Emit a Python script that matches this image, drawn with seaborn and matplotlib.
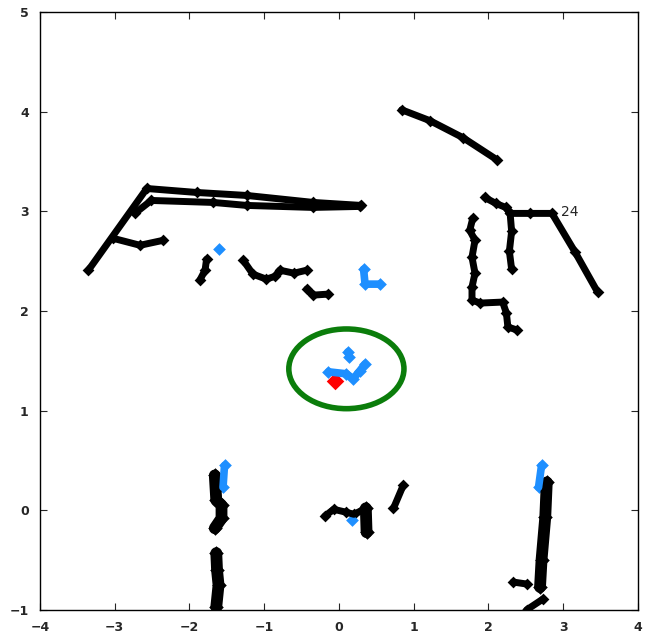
#!/usr/bin/env python3
"""Laser scan points around the robot, with the detected target circled."""

import matplotlib

matplotlib.use("Agg")
import matplotlib.pyplot as plt
import pandas as pd
import seaborn as sns
from matplotlib.patches import Ellipse

# black scan segments (x, y) in metres, normal width
arc_top = [(0.84, 4.02), (1.22, 3.91), (1.66, 3.74), (2.11, 3.52)]
right_wall = [(1.95, 3.14), (2.10, 3.08), (2.23, 3.04), (2.29, 2.98),
              (2.55, 2.98), (2.85, 2.98), (3.16, 2.59), (3.46, 2.19)]
right_post = [(2.29, 2.98), (2.31, 2.80), (2.28, 2.60), (2.31, 2.42)]
right_zig = [(1.79, 2.93), (1.75, 2.81), (1.82, 2.71), (1.78, 2.54),
             (1.82, 2.38), (1.78, 2.24), (1.78, 2.11), (1.89, 2.08),
             (2.19, 2.09), (2.24, 1.98), (2.26, 1.84), (2.38, 1.81)]
left_outer = [(-3.35, 2.41), (-2.57, 3.23), (-1.90, 3.19), (-1.23, 3.16),
              (-0.34, 3.09), (0.30, 3.06)]
left_inner = [(-2.73, 2.98), (-2.51, 3.11), (-1.68, 3.09), (-1.23, 3.06),
              (-0.35, 3.04), (0.28, 3.05)]
left_branch = [(-3.02, 2.73), (-2.66, 2.66), (-2.35, 2.71)]
mid_piece1 = [(-1.77, 2.52), (-1.79, 2.41), (-1.86, 2.31)]
mid_piece2 = [(-1.28, 2.51), (-1.15, 2.37), (-0.97, 2.32), (-0.85, 2.35),
              (-0.79, 2.41), (-0.60, 2.38), (-0.43, 2.41)]
mid_piece3 = [(-0.43, 2.22), (-0.34, 2.16), (-0.14, 2.17)]
mid_bottom = [(-0.19, -0.06), (-0.07, 0.01), (0.10, -0.02), (0.20, -0.04),
              (0.31, 0.00)]
slant = [(0.86, 0.25), (0.73, 0.02)]
bits_a = [(2.33, -0.72), (2.51, -0.74)]
bits_b = [(2.51, -1.00), (2.73, -0.89)]

# black scan segments, wide blobs
post_left_up = [(-1.66, 0.35), (-1.64, 0.10), (-1.57, 0.05), (-1.57, -0.08),
                (-1.66, -0.18)]
post_left_low = [(-1.64, -0.43), (-1.63, -0.60), (-1.61, -0.75), (-1.64, -0.97)]
block_mid = [(0.36, 0.02), (0.37, -0.22)]
post_right = [(2.78, 0.28), (2.76, -0.07), (2.71, -0.50), (2.69, -0.77)]

# blue points (tracked legs)
blue_a = [(-1.61, 2.62)]
blue_b = [(0.33, 2.42), (0.35, 2.27), (0.55, 2.27)]
blue_c = [(0.12, 1.59), (0.14, 1.54)]
blue_d = [(-0.14, 1.39), (0.10, 1.37), (0.19, 1.32), (0.28, 1.40), (0.35, 1.47)]
blue_e = [(-1.53, 0.45), (-1.55, 0.23)]
blue_f = [(0.17, -0.10)]
blue_g = [(2.71, 0.45), (2.67, 0.23)]

# red point (target)
red_pt = [(-0.05, 1.30)]

# circle around the target
circle_center = (0.10, 1.42)
circle_w, circle_h = 1.54, 0.80

label_text = "24"
label_pos = (2.97, 2.99)

x_ticks = [-4, -3, -2, -1, 0, 1, 2, 3, 4]
y_ticks = [-1, 0, 1, 2, 3, 4, 5]


def to_frame(segments):
    rows = []
    for i, seg in enumerate(segments):
        for x, y in seg:
            rows.append({"x": x, "y": y, "seg": i})
    return pd.DataFrame(rows)


def draw(ax, segments, color, lw, ms):
    frame = to_frame(segments)
    sns.lineplot(data=frame, x="x", y="y", units="seg", estimator=None,
                 sort=False, color=color, lw=lw, ax=ax, legend=False)
    sns.scatterplot(data=frame, x="x", y="y", color=color, marker="D",
                    s=ms, edgecolor=color, linewidth=0, ax=ax, legend=False)


def main():
    sns.set_style("ticks")
    plt.rcParams["font.family"] = ["DejaVu Sans"]
    fig = plt.figure(figsize=(6.53, 6.40), dpi=100)
    ax = fig.add_axes([0.061, 0.047, 0.916, 0.934])

    draw(ax, [arc_top, right_wall, right_post, right_zig, left_outer,
              left_inner, left_branch, mid_piece1, mid_piece2, mid_piece3,
              mid_bottom, slant, bits_a, bits_b], "black", 5, 36)
    draw(ax, [post_left_up, post_left_low, block_mid, post_right],
         "black", 8.5, 55)
    draw(ax, [blue_a, blue_b, blue_c, blue_d, blue_e, blue_f, blue_g],
         "#1e8fff", 5.5, 42)
    draw(ax, [red_pt], "red", 6, 80)

    ax.add_patch(Ellipse(circle_center, circle_w, circle_h, fill=False,
                         edgecolor="#0b7d0b", lw=4))
    ax.text(*label_pos, label_text, fontsize=10, va="center", ha="left")

    ax.set_xlim(-4, 4)
    ax.set_ylim(-1, 5)
    ax.set_xticks(x_ticks)
    ax.set_yticks(y_ticks)
    ax.set_xlabel("")
    ax.set_ylabel("")
    ax.tick_params(direction="in", top=True, right=True, length=5,
                   labelsize=9, pad=8)
    for lab in ax.get_xticklabels() + ax.get_yticklabels():
        lab.set_fontweight("bold")
    for sp in ax.spines.values():
        sp.set_visible(True)
        sp.set_color("black")
        sp.set_linewidth(1)

    fig.savefig("out.png", dpi=100)
    plt.close(fig)


if __name__ == "__main__":
    main()
